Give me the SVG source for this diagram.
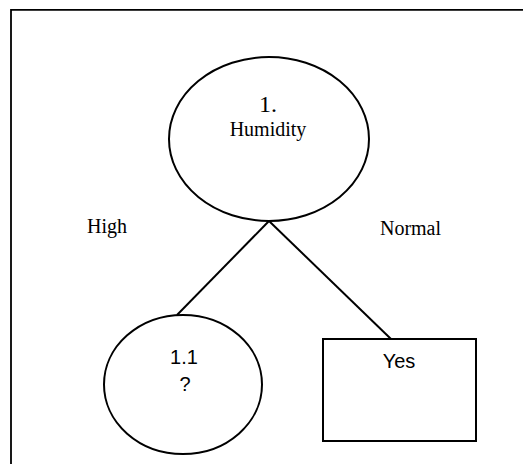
<svg xmlns="http://www.w3.org/2000/svg" width="523" height="464" viewBox="0 0 523 464">
<style>
.shape{fill:#fff;stroke:#000;stroke-width:2}
.edge{fill:none;stroke:#000;stroke-width:2}
.serif{font-family:"Liberation Serif","Times New Roman",serif;fill:#000;text-anchor:middle}
.sans{font-family:"Liberation Sans",Arial,sans-serif;fill:#000;text-anchor:middle;font-size:20px}
</style>
<rect width="523" height="464" fill="#fff"/>
<polyline points="11,464 11,9.8 523,9.8" fill="none" stroke="#000" stroke-width="1.8"/>
<g id="connectors">
<line class="edge" x1="269" y1="221" x2="177" y2="315"/>
<line class="edge" x1="269" y1="221" x2="391" y2="339"/>
</g>
<g id="node-humidity">
<ellipse class="shape" cx="269" cy="139" rx="100" ry="82"/>
<text class="serif" x="268" y="112" font-size="24">1.</text>
<text class="serif" x="268" y="136" font-size="20">Humidity</text>
</g>
<g id="node-1-1">
<ellipse class="shape" cx="183" cy="384.5" rx="79" ry="69.5"/>
<text class="sans" x="184" y="364" font-size="21">1.1</text>
<text class="sans" x="185" y="391">?</text>
</g>
<g id="node-yes">
<rect class="shape" x="323" y="339" width="153" height="102"/>
<text class="sans" x="399" y="368">Yes</text>
</g>
<g id="labels">
<text class="serif" x="107" y="233" font-size="20">High</text>
<text class="serif" x="410.5" y="235" font-size="20">Normal</text>
</g>
</svg>
